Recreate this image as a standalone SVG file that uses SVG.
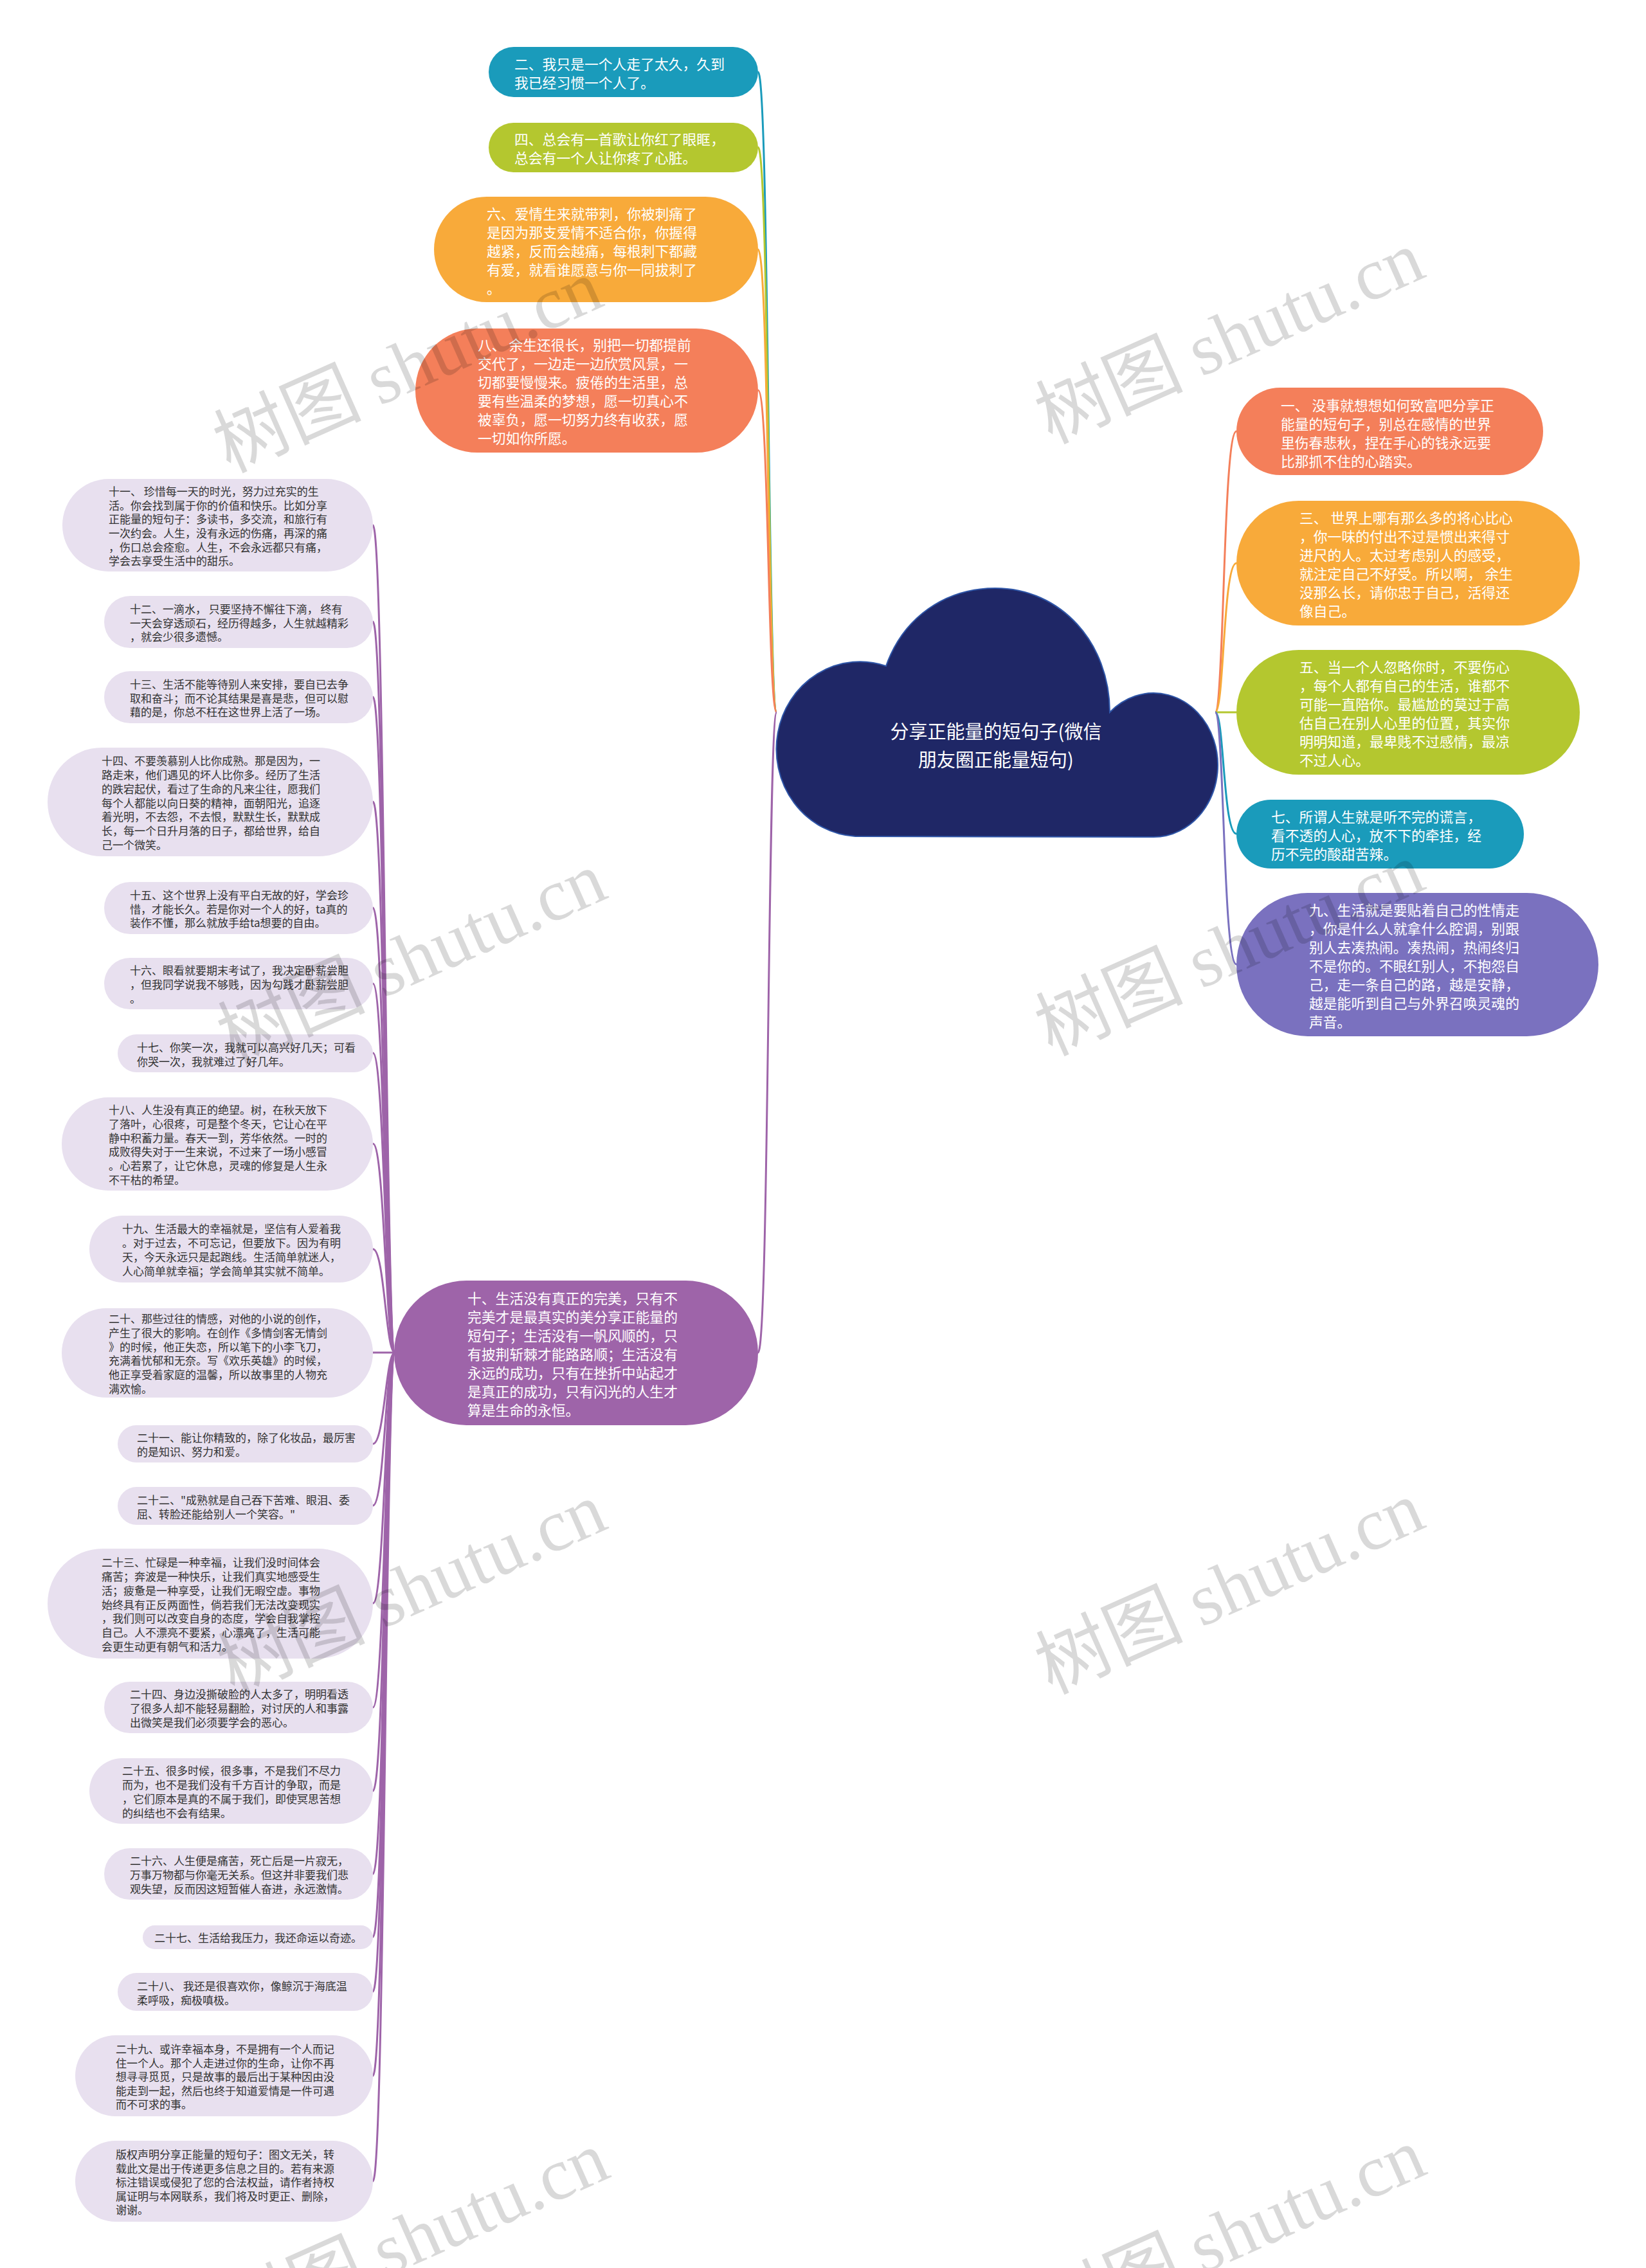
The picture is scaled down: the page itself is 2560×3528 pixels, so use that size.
<svg xmlns="http://www.w3.org/2000/svg" width="2560" height="3528" viewBox="0 0 2560 3528">
<style>
text{font-family:"Noto Sans CJK SC","Noto Sans",sans-serif;dominant-baseline:central}
.w{fill:#ffffff;font-size:21.8px}
.d{fill:#333333;font-size:17px}
.ct{fill:#ffffff;font-size:29px;text-anchor:middle}
.teal{fill:#1a9bbb}.lime{fill:#b4c72f}.orange{fill:#f8aa3a}.coral{fill:#f47f5a}.violet{fill:#7a71bf}.plum{fill:#9e64a9}.lav{fill:#e8e0ef}
.c{fill:none;stroke-width:3}
.cteal{stroke:#1a9bbb}.clime{stroke:#b4c72f}.corange{stroke:#f8aa3a}.ccoral{stroke:#f47f5a}.cviolet{stroke:#7a71bf}.cplum{stroke:#9e64a9}
.wm{fill:#000;fill-opacity:0.15;font-size:115px;text-anchor:middle;dominant-baseline:auto}
</style>
<rect width="2560" height="3528" fill="#ffffff"/>
<g id="connectors">
<path class="c cteal" d="M1208,1108 C1194,1108 1196,112 1179,112"/>
<path class="c clime" d="M1208,1108 C1194,1108 1196,229 1179,229"/>
<path class="c corange" d="M1208,1108 C1194,1108 1196,388 1179,388"/>
<path class="c ccoral" d="M1208,1108 C1194,1108 1196,607 1179,607"/>
<path class="c cplum" d="M1208,1108 C1194,1108 1196,2104 1179,2104"/>
<path class="c ccoral" d="M1890,1108 C1904,1108 1902,671 1923,671"/>
<path class="c corange" d="M1890,1108 C1904,1108 1902,876 1923,876"/>
<path class="c clime" d="M1890,1108 L1923,1108"/>
<path class="c cteal" d="M1890,1108 C1904,1108 1902,1297 1923,1297"/>
<path class="c cviolet" d="M1890,1108 C1904,1108 1902,1500 1923,1500"/>
<g class="c cplum">
<path d="M614,2104 C600,2104 598,817 580,817"/>
<path d="M614,2104 C600,2104 598,967 580,967"/>
<path d="M614,2104 C600,2104 598,1084 580,1084"/>
<path d="M614,2104 C600,2104 598,1247 580,1247"/>
<path d="M614,2104 C600,2104 598,1412 580,1412"/>
<path d="M614,2104 C600,2104 598,1530 580,1530"/>
<path d="M614,2104 C600,2104 598,1638 580,1638"/>
<path d="M614,2104 C600,2104 598,1779 580,1779"/>
<path d="M614,2104 C600,2104 598,1943 580,1943"/>
<path d="M614,2104 L580,2104"/>
<path d="M614,2104 C600,2104 598,2246 580,2246"/>
<path d="M614,2104 C600,2104 598,2342 580,2342"/>
<path d="M614,2104 C600,2104 598,2494 580,2494"/>
<path d="M614,2104 C600,2104 598,2656 580,2656"/>
<path d="M614,2104 C600,2104 598,2786 580,2786"/>
<path d="M614,2104 C600,2104 598,2915 580,2915"/>
<path d="M614,2104 C600,2104 598,3013 580,3013"/>
<path d="M614,2104 C600,2104 598,3098 580,3098"/>
<path d="M614,2104 C600,2104 598,3229 580,3229"/>
<path d="M614,2104 C600,2104 598,3393 580,3393"/>
</g>
</g>
<g id="root">
<path d="M1330,1301 A130,136 0 1 1 1378,1036 C1405,960 1470,915 1548,915 C1650,915 1726,1000 1726,1108 A100,112 0 1 1 1790,1302 Z" fill="#1f2766" stroke="#2f56a8" stroke-width="2"/>
<text class="ct" x="1549" y="1136">分享正能量的短句子(微信</text>
<text class="ct" x="1549" y="1180">朋友圈正能量短句)</text>
</g>
<g id="n2"><rect class="teal" x="760" y="73" width="419" height="78" rx="39"/>
<text class="w"><tspan x="800" y="98">二、我只是一个人走了太久，久到</tspan><tspan x="800" y="127">我已经习惯一个人了。</tspan></text></g>
<g id="n4"><rect class="lime" x="760" y="191" width="419" height="77" rx="38.5"/>
<text class="w"><tspan x="800" y="215">四、总会有一首歌让你红了眼眶，</tspan><tspan x="800" y="244">总会有一个人让你疼了心脏。</tspan></text></g>
<g id="n6"><rect class="orange" x="675" y="306" width="504" height="164" rx="82"/>
<text class="w"><tspan x="757" y="331">六、爱情生来就带刺，你被刺痛了</tspan><tspan x="757" y="360">是因为那支爱情不适合你，你握得</tspan><tspan x="757" y="389">越紧，反而会越痛，每根刺下都藏</tspan><tspan x="757" y="418">有爱，就看谁愿意与你一同拔刺了</tspan><tspan x="757" y="447">。</tspan></text></g>
<g id="n8"><rect class="coral" x="646" y="511" width="533" height="193" rx="96.5"/>
<text class="w"><tspan x="743" y="535">八、 余生还很长，别把一切都提前</tspan><tspan x="743" y="564">交代了，一边走一边欣赏风景，一</tspan><tspan x="743" y="593">切都要慢慢来。疲倦的生活里，总</tspan><tspan x="743" y="622">要有些温柔的梦想，愿一切真心不</tspan><tspan x="743" y="651">被辜负，愿一切努力终有收获，愿</tspan><tspan x="743" y="680">一切如你所愿。</tspan></text></g>
<g id="n1"><rect class="coral" x="1923" y="603" width="477" height="136" rx="68"/>
<text class="w"><tspan x="1992" y="629">一、 没事就想想如何致富吧分享正</tspan><tspan x="1992" y="658">能量的短句子，别总在感情的世界</tspan><tspan x="1992" y="687">里伤春悲秋，捏在手心的钱永远要</tspan><tspan x="1992" y="716">比那抓不住的心踏实。</tspan></text></g>
<g id="n3"><rect class="orange" x="1923" y="779" width="534" height="194" rx="97"/>
<text class="w"><tspan x="2021" y="803.5">三、 世界上哪有那么多的将心比心</tspan><tspan x="2021" y="832.5">，你一味的付出不过是惯出来得寸</tspan><tspan x="2021" y="861.5">进尺的人。太过考虑别人的感受，</tspan><tspan x="2021" y="890.5">就注定自己不好受。所以啊， 余生</tspan><tspan x="2021" y="919.5">没那么长，请你忠于自己，活得还</tspan><tspan x="2021" y="948.5">像自己。</tspan></text></g>
<g id="n5"><rect class="lime" x="1923" y="1011" width="534" height="194" rx="97"/>
<text class="w"><tspan x="2021" y="1035.5">五、当一个人忽略你时，不要伤心</tspan><tspan x="2021" y="1064.5">，每个人都有自己的生活，谁都不</tspan><tspan x="2021" y="1093.5">可能一直陪你。最尴尬的莫过于高</tspan><tspan x="2021" y="1122.5">估自己在别人心里的位置，其实你</tspan><tspan x="2021" y="1151.5">明明知道，最卑贱不过感情，最凉</tspan><tspan x="2021" y="1180.5">不过人心。</tspan></text></g>
<g id="n7"><rect class="teal" x="1923" y="1244" width="447" height="107" rx="53.5"/>
<text class="w"><tspan x="1977" y="1269">七、所谓人生就是听不完的谎言，</tspan><tspan x="1977" y="1298">看不透的人心，放不下的牵挂，经</tspan><tspan x="1977" y="1327">历不完的酸甜苦辣。</tspan></text></g>
<g id="n9"><rect class="violet" x="1923" y="1389" width="563" height="223" rx="111.5"/>
<text class="w"><tspan x="2036" y="1413.5">九、生活就是要贴着自己的性情走</tspan><tspan x="2036" y="1442.5">，你是什么人就拿什么腔调，别跟</tspan><tspan x="2036" y="1471.5">别人去凑热闹。凑热闹，热闹终归</tspan><tspan x="2036" y="1500.5">不是你的。不眼红别人，不抱怨自</tspan><tspan x="2036" y="1529.5">己，走一条自己的路，越是安静，</tspan><tspan x="2036" y="1558.5">越是能听到自己与外界召唤灵魂的</tspan><tspan x="2036" y="1587.5">声音。</tspan></text></g>
<g id="n10"><rect class="plum" x="613" y="1992" width="566" height="225" rx="112.5"/>
<text class="w"><tspan x="727" y="2017.5">十、生活没有真正的完美，只有不</tspan><tspan x="727" y="2046.5">完美才是最真实的美分享正能量的</tspan><tspan x="727" y="2075.5">短句子；生活没有一帆风顺的，只</tspan><tspan x="727" y="2104.5">有披荆斩棘才能路路顺；生活没有</tspan><tspan x="727" y="2133.5">永远的成功，只有在挫折中站起才</tspan><tspan x="727" y="2162.5">是真正的成功，只有闪光的人生才</tspan><tspan x="727" y="2191.5">算是生命的永恒。</tspan></text></g>
<g id="n11"><rect class="lav" x="97" y="745" width="483" height="144" rx="72"/>
<text class="d"><tspan x="169" y="763">十一、 珍惜每一天的时光，努力过充实的生</tspan><tspan x="169" y="784.5">活。你会找到属于你的价值和快乐。比如分享</tspan><tspan x="169" y="806">正能量的短句子：多读书，多交流，和旅行有</tspan><tspan x="169" y="828">一次约会。人生，没有永远的伤痛，再深的痛</tspan><tspan x="169" y="849.5">，伤口总会痊愈。人生，不会永远都只有痛，</tspan><tspan x="169" y="871">学会去享受生活中的甜乐。</tspan></text></g>
<g id="n12"><rect class="lav" x="162" y="927" width="418" height="81" rx="40.5"/>
<text class="d"><tspan x="202" y="946">十二、一滴水， 只要坚持不懈往下滴， 终有</tspan><tspan x="202" y="967.5">一天会穿透顽石，经历得越多，人生就越精彩</tspan><tspan x="202" y="989">，就会少很多遗憾。</tspan></text></g>
<g id="n13"><rect class="lav" x="162" y="1044" width="418" height="81" rx="40.5"/>
<text class="d"><tspan x="202" y="1063">十三、生活不能等待别人来安排，要自已去争</tspan><tspan x="202" y="1084.5">取和奋斗；而不论其结果是喜是悲，但可以慰</tspan><tspan x="202" y="1106">藉的是，你总不枉在这世界上活了一场。</tspan></text></g>
<g id="n14"><rect class="lav" x="74" y="1163" width="506" height="169" rx="84.5"/>
<text class="d"><tspan x="158" y="1182">十四、不要羡慕别人比你成熟。那是因为，一</tspan><tspan x="158" y="1204">路走来，他们遇见的坏人比你多。经历了生活</tspan><tspan x="158" y="1226">的跌宕起伏，看过了生命的凡来尘往，愿我们</tspan><tspan x="158" y="1247.5">每个人都能以向日葵的精神，面朝阳光，追逐</tspan><tspan x="158" y="1269">着光明，不去怨，不去恨，默默生长，默默成</tspan><tspan x="158" y="1291">长，每一个日升月落的日子，都给世界，给自</tspan><tspan x="158" y="1313">己一个微笑。</tspan></text></g>
<g id="n15"><rect class="lav" x="162" y="1372" width="418" height="81" rx="40.5"/>
<text class="d"><tspan x="202" y="1391">十五、这个世界上没有平白无故的好，学会珍</tspan><tspan x="202" y="1412.5">惜，才能长久。若是你对一个人的好，ta真的</tspan><tspan x="202" y="1434">装作不懂，那么就放手给ta想要的自由。</tspan></text></g>
<g id="n16"><rect class="lav" x="162" y="1490" width="418" height="80" rx="40"/>
<text class="d"><tspan x="202" y="1508">十六、眼看就要期末考试了，我决定卧薪尝胆</tspan><tspan x="202" y="1530">，但我同学说我不够贱，因为勾践才卧薪尝胆</tspan><tspan x="202" y="1552">。</tspan></text></g>
<g id="n17"><rect class="lav" x="183" y="1609" width="397" height="59" rx="29.5"/>
<text class="d"><tspan x="213" y="1627.5">十七、你笑一次，我就可以高兴好几天；可看</tspan><tspan x="213" y="1649.5">你哭一次，我就难过了好几年。</tspan></text></g>
<g id="n18"><rect class="lav" x="96" y="1707" width="484" height="145" rx="72.5"/>
<text class="d"><tspan x="169" y="1725">十八、人生没有真正的绝望。树，在秋天放下</tspan><tspan x="169" y="1747">了落叶，心很疼，可是整个冬天，它让心在平</tspan><tspan x="169" y="1769">静中积蓄力量。春天一到，芳华依然。一时的</tspan><tspan x="169" y="1790">成败得失对于一生来说，不过来了一场小感冒</tspan><tspan x="169" y="1812">。心若累了，让它休息，灵魂的修复是人生永</tspan><tspan x="169" y="1834">不干枯的希望。</tspan></text></g>
<g id="n19"><rect class="lav" x="139" y="1891" width="441" height="104" rx="52"/>
<text class="d"><tspan x="190" y="1910">十九、生活最大的幸福就是，坚信有人爱着我</tspan><tspan x="190" y="1932">。对于过去，不可忘记，但要放下。因为有明</tspan><tspan x="190" y="1954">天，今天永远只是起跑线。生活简单就迷人，</tspan><tspan x="190" y="1976">人心简单就幸福；学会简单其实就不简单。</tspan></text></g>
<g id="n20"><rect class="lav" x="96" y="2035" width="484" height="139" rx="69.5"/>
<text class="d"><tspan x="169" y="2050">二十、那些过往的情感，对他的小说的创作，</tspan><tspan x="169" y="2072">产生了很大的影响。在创作《多情剑客无情剑</tspan><tspan x="169" y="2094">》的时候，他正失恋，所以笔下的小李飞刀，</tspan><tspan x="169" y="2115">充满着忧郁和无奈。写《欢乐英雄》的时候，</tspan><tspan x="169" y="2137">他正享受着家庭的温馨，所以故事里的人物充</tspan><tspan x="169" y="2159">满欢愉。</tspan></text></g>
<g id="n21"><rect class="lav" x="183" y="2217" width="397" height="58" rx="29"/>
<text class="d"><tspan x="213" y="2235">二十一、能让你精致的，除了化妆品，最厉害</tspan><tspan x="213" y="2257">的是知识、努力和爱。</tspan></text></g>
<g id="n22"><rect class="lav" x="183" y="2313" width="397" height="59" rx="29.5"/>
<text class="d"><tspan x="213" y="2331.5">二十二、"成熟就是自己吞下苦难、眼泪、委</tspan><tspan x="213" y="2353.5">屈、转脸还能给别人一个笑容。"</tspan></text></g>
<g id="n23"><rect class="lav" x="74" y="2409" width="506" height="171" rx="85.5"/>
<text class="d"><tspan x="158" y="2429">二十三、忙碌是一种幸福，让我们没时间体会</tspan><tspan x="158" y="2451">痛苦；奔波是一种快乐，让我们真实地感受生</tspan><tspan x="158" y="2473">活；疲惫是一种享受，让我们无暇空虚。事物</tspan><tspan x="158" y="2494.5">始终具有正反两面性，倘若我们无法改变现实</tspan><tspan x="158" y="2516">，我们则可以改变自身的态度，学会自我掌控</tspan><tspan x="158" y="2538">自己。人不漂亮不要紧，心漂亮了，生活可能</tspan><tspan x="158" y="2560">会更生动更有朝气和活力。</tspan></text></g>
<g id="n24"><rect class="lav" x="162" y="2616" width="418" height="80" rx="40"/>
<text class="d"><tspan x="202" y="2634">二十四、身边没撕破脸的人太多了，明明看透</tspan><tspan x="202" y="2656">了很多人却不能轻易翻脸，对讨厌的人和事露</tspan><tspan x="202" y="2678">出微笑是我们必须要学会的恶心。</tspan></text></g>
<g id="n25"><rect class="lav" x="139" y="2735" width="441" height="102" rx="51"/>
<text class="d"><tspan x="190" y="2753">二十五、很多时候，很多事，不是我们不尽力</tspan><tspan x="190" y="2775">而为，也不是我们没有千方百计的争取，而是</tspan><tspan x="190" y="2797">，它们原本是真的不属于我们，即使冥思苦想</tspan><tspan x="190" y="2819">的纠结也不会有结果。</tspan></text></g>
<g id="n26"><rect class="lav" x="162" y="2875" width="418" height="80" rx="40"/>
<text class="d"><tspan x="202" y="2893">二十六、人生便是痛苦，死亡后是一片寂无，</tspan><tspan x="202" y="2915">万事万物都与你毫无关系。但这并非要我们悲</tspan><tspan x="202" y="2937">观失望，反而因这短暂催人奋进，永远激情。</tspan></text></g>
<g id="n27"><rect class="lav" x="222" y="2995" width="358" height="37" rx="18.5"/>
<text class="d" x="240" y="3013.5">二十七、生活给我压力，我还命运以奇迹。</text></g>
<g id="n28"><rect class="lav" x="183" y="3069" width="397" height="59" rx="29.5"/>
<text class="d"><tspan x="213" y="3087.5">二十八、 我还是很喜欢你，像鲸沉于海底温</tspan><tspan x="213" y="3109.5">柔呼吸，痴极嗔极。</tspan></text></g>
<g id="n29"><rect class="lav" x="117" y="3166" width="463" height="126" rx="63"/>
<text class="d"><tspan x="180" y="3186">二十九、或许幸福本身，不是拥有一个人而记</tspan><tspan x="180" y="3207.5">住一个人。那个人走进过你的生命，让你不再</tspan><tspan x="180" y="3229">想寻寻觅觅，只是故事的最后出于某种因由没</tspan><tspan x="180" y="3251">能走到一起，然后也终于知道爱情是一件可遇</tspan><tspan x="180" y="3272">而不可求的事。</tspan></text></g>
<g id="n30"><rect class="lav" x="117" y="3330" width="463" height="126" rx="63"/>
<text class="d"><tspan x="180" y="3350">版权声明分享正能量的短句子：图文无关，转</tspan><tspan x="180" y="3371.5">载此文是出于传递更多信息之目的。若有来源</tspan><tspan x="180" y="3393">标注错误或侵犯了您的合法权益，请作者持权</tspan><tspan x="180" y="3415">属证明与本网联系，我们将及时更正、删除，</tspan><tspan x="180" y="3436">谢谢。</tspan></text></g>
<g id="watermark">
<text class="wm" transform="translate(650,605) rotate(-24)"><tspan>树图 </tspan><tspan font-family="Liberation Serif">shutu.cn</tspan></text>
<text class="wm" transform="translate(1928,560) rotate(-24)"><tspan>树图 </tspan><tspan font-family="Liberation Serif">shutu.cn</tspan></text>
<text class="wm" transform="translate(656,1526) rotate(-24)"><tspan>树图 </tspan><tspan font-family="Liberation Serif">shutu.cn</tspan></text>
<text class="wm" transform="translate(1928,1512) rotate(-24)"><tspan>树图 </tspan><tspan font-family="Liberation Serif">shutu.cn</tspan></text>
<text class="wm" transform="translate(656,2507) rotate(-24)"><tspan>树图 </tspan><tspan font-family="Liberation Serif">shutu.cn</tspan></text>
<text class="wm" transform="translate(1928,2505) rotate(-24)"><tspan>树图 </tspan><tspan font-family="Liberation Serif">shutu.cn</tspan></text>
<text class="wm" transform="translate(660,3516) rotate(-24)"><tspan>树图 </tspan><tspan font-family="Liberation Serif">shutu.cn</tspan></text>
<text class="wm" transform="translate(1930,3511) rotate(-24)"><tspan>树图 </tspan><tspan font-family="Liberation Serif">shutu.cn</tspan></text>
</g>
</svg>
